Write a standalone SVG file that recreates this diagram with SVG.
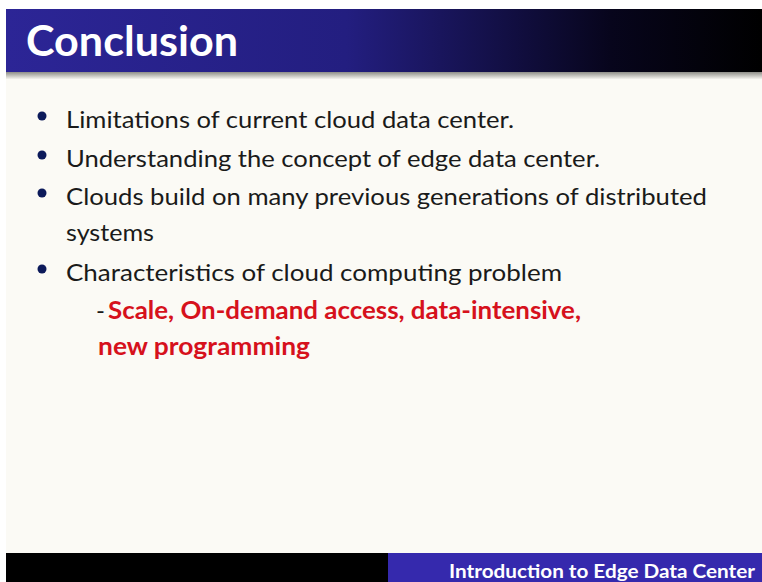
<svg xmlns="http://www.w3.org/2000/svg" width="762" height="582" viewBox="0 0 762 582">
  <style>
    .body { font-family: Lato, "Open Sans", "Liberation Sans", sans-serif; font-size: 24px; fill: #1a1a1a; }
    .em { font-family: Lato, "Open Sans", "Liberation Sans", sans-serif; font-size: 24px; font-weight: bold; fill: #d6111c; }
    .bullet { fill: #0c1a5a; }
  </style>
  <defs>
    <linearGradient id="titleGrad" x1="0" y1="0" x2="1" y2="0">
      <stop offset="0" stop-color="#2c2596"/>
      <stop offset="0.45" stop-color="#231e80"/>
      <stop offset="0.8" stop-color="#07051c"/>
      <stop offset="1" stop-color="#000000"/>
    </linearGradient>
    <linearGradient id="shadowGrad" x1="0" y1="0" x2="0" y2="1">
      <stop offset="0" stop-color="#8e8e88"/>
      <stop offset="1" stop-color="#f4f3ee"/>
    </linearGradient>
  </defs>

  <!-- page -->
  <rect x="0" y="0" width="762" height="582" fill="#ffffff"/>
  <rect x="6" y="9" width="756" height="573" fill="#fbfaf5"/>

  <!-- title bar -->
  <g id="title">
    <rect x="6" y="9" width="756" height="63" fill="url(#titleGrad)"/>
    <rect x="6" y="72" width="756" height="7" fill="url(#shadowGrad)"/>
    <text x="26" y="56" font-family="Lato, 'Open Sans', 'Liberation Sans', sans-serif" font-size="42" font-weight="bold" fill="#ffffff" textLength="212" lengthAdjust="spacingAndGlyphs">Conclusion</text>
  </g>

  <!-- bullet list -->
  <g id="bullets">
    <circle class="bullet" cx="42" cy="116" r="4.5"/>
    <text class="body" x="66" y="128" textLength="448" lengthAdjust="spacingAndGlyphs">Limitations of current cloud data center.</text>

    <circle class="bullet" cx="42" cy="155" r="4.5"/>
    <text class="body" x="66" y="167" textLength="534" lengthAdjust="spacingAndGlyphs">Understanding the concept of edge data center.</text>

    <circle class="bullet" cx="42" cy="193" r="4.5"/>
    <text class="body" x="66" y="205" textLength="641" lengthAdjust="spacingAndGlyphs">Clouds build on many previous generations of distributed</text>
    <text class="body" x="66" y="241" textLength="88" lengthAdjust="spacingAndGlyphs">systems</text>

    <circle class="bullet" cx="42" cy="269" r="4.5"/>
    <text class="body" x="66" y="281" textLength="496" lengthAdjust="spacingAndGlyphs">Characteristics of  cloud computing problem</text>

    <text class="body" x="96" y="319">-</text>
    <text class="em" x="108" y="319" textLength="473" lengthAdjust="spacingAndGlyphs">Scale, On-demand access, data-intensive,</text>
    <text class="em" x="98" y="355" textLength="212" lengthAdjust="spacingAndGlyphs">new programming</text>
  </g>

  <!-- footer -->
  <g id="footer">
    <rect x="6" y="553" width="382" height="29" fill="#000000"/>
    <rect x="388" y="553" width="374" height="29" fill="#3529ad"/>
    <text x="449" y="578" font-family="Lato, 'Open Sans', 'Liberation Sans', sans-serif" font-size="18" font-weight="bold" fill="#ffffff" textLength="306" lengthAdjust="spacingAndGlyphs">Introduction to Edge Data Center</text>
  </g>
</svg>
